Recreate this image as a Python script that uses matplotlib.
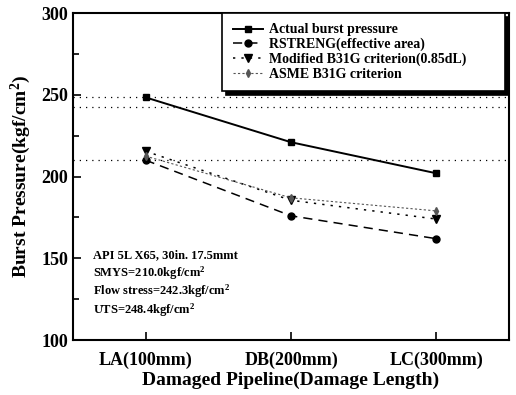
import matplotlib
matplotlib.use("Agg")
import matplotlib.pyplot as plt

categories = ["LA(100mm)", "DB(200mm)", "LC(300mm)"]
actual = [248.4, 221.0, 202.0]
rstreng = [210.0, 176.0, 162.0]
modified = [215.5, 185.5, 174.0]
asme = [212.5, 187.0, 179.0]
ref_lines = [248.4, 242.3, 210.0]
info_lines = ["API 5L X65, 30in. 17.5mmt",
              "SMYS=210.0kgf/cm$^2$",
              "Flow stress=242.3kgf/cm$^2$",
              "UTS=248.4kgf/cm$^2$"]

plt.rcParams['font.family'] = ['Liberation Serif', 'DejaVu Serif']
plt.rcParams['mathtext.fontset'] = 'custom'
plt.rcParams['mathtext.rm'] = 'Liberation Serif:bold'
plt.rcParams['mathtext.it'] = 'Liberation Serif:bold'

fig = plt.figure(figsize=(5.16, 3.95), dpi=100)
ax = fig.add_axes([0.1415, 0.139, 0.845, 0.828])

x = [1, 2, 3]
for v in ref_lines:
    ax.axhline(v, color='black', lw=0.9, ls=(0, (1, 4)))

ax.plot(x, actual, color='black', lw=1.4, ls='-', marker='s', ms=5, label='Actual burst pressure')
ax.plot(x, rstreng, color='black', lw=1.1, ls=(0, (6, 4)), marker='o', ms=5, label='RSTRENG(effective area)')
ax.plot(x, modified, color='black', lw=1.1, ls=(0, (1.5, 4)), marker='v', ms=6, label='Modified B31G criterion(0.85dL)')
ax.plot(x, asme, color='#555555', lw=0.8, ls=(0, (2, 2)), marker='d', ms=4, label='ASME B31G criterion')

ax.set_xlim(0.5, 3.5)
ax.set_ylim(100, 300)
ax.set_xticks(x)
ax.set_xticklabels(categories, fontsize=13, fontweight='bold')
ax.set_yticks([100, 150, 200, 250, 300])
ax.set_yticks([125, 175, 225, 275], minor=True)
ax.tick_params(axis='y', which='major', labelsize=13, direction='in', length=6, width=1.2)
ax.tick_params(axis='y', which='minor', direction='in', length=4, width=1.2)
ax.tick_params(axis='x', direction='in', length=6, width=1.2, pad=8)
for lab in ax.get_yticklabels():
    lab.set_fontweight('bold')
for s in ax.spines.values():
    s.set_linewidth(1.5)

ax.set_xlabel("Damaged Pipeline(Damage Length)", fontsize=14, fontweight='bold', labelpad=2)
ax.set_ylabel("Burst Pressure(kgf/cm$^2$)", fontsize=14, fontweight='bold', labelpad=6)

for i, t in enumerate(info_lines):
    ax.text(0.045, 0.26 - i * 0.056, t, transform=ax.transAxes, fontsize=9, fontweight='bold', va='center')

leg = ax.legend(loc='upper left', bbox_to_anchor=(0.342, 0.0, 0.648, 1.0), mode='expand',
                prop={'size': 10, 'weight': 'bold'},
                frameon=True, fancybox=False, shadow={'ox': 3, 'oy': -3, 'color': 'black', 'alpha': 1},
                framealpha=1, edgecolor='black', borderaxespad=0.0,
                handlelength=2.2, labelspacing=0.1, borderpad=0.75, handletextpad=0.4)
leg.get_frame().set_linewidth(1.2)

fig.savefig("out.png", dpi=100)
